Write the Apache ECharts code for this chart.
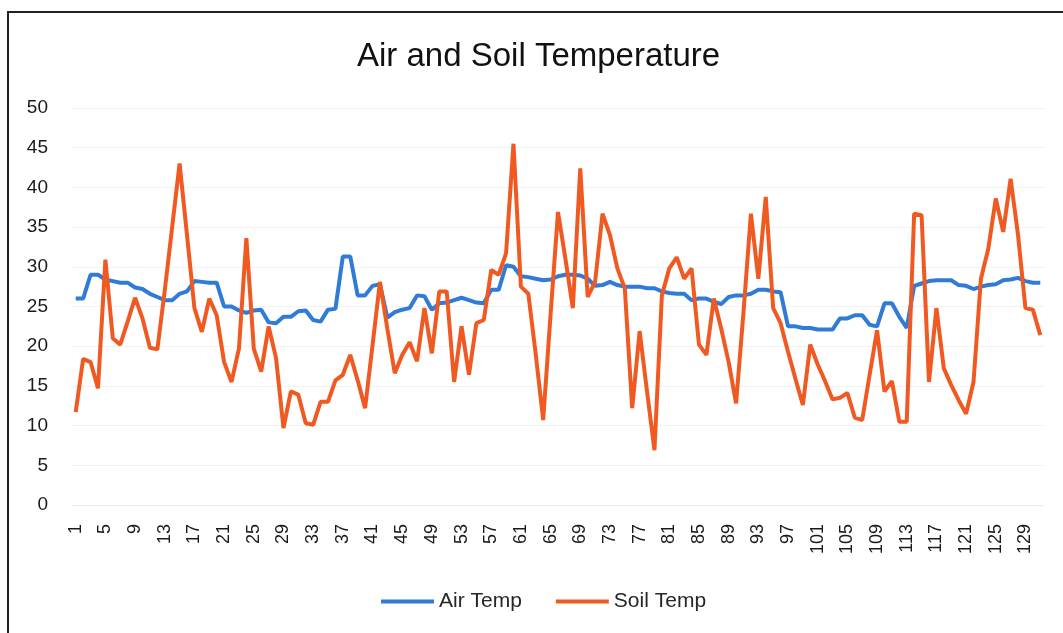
<!DOCTYPE html>
<html>
<head>
<meta charset="utf-8">
<script src="https://cdn.jsdelivr.net/npm/echarts@6/dist/echarts.min.js"></script>
<style>
  html, body { margin: 0; padding: 0; background: #ffffff; }
  #chart { width: 1063px; height: 633px; }
</style>
</head>
<body>
<div id="chart"></div>
<script>
const categories = Array.from({ length: 131 }, (_, i) => String(i + 1));

const airTemp = [
  26.0, 26.0, 29.0, 29.0, 28.4, 28.2, 28.0, 28.0, 27.4, 27.2,
  26.6, 26.2, 25.8, 25.8, 26.6, 26.9, 28.2, 28.1, 28.0, 28.0,
  25.0, 25.0, 24.5, 24.2, 24.5, 24.6, 23.0, 22.9, 23.7, 23.7,
  24.4, 24.5, 23.3, 23.1, 24.6, 24.7, 31.3, 31.3, 26.4, 26.4,
  27.6, 27.8, 23.6, 24.3, 24.6, 24.8, 26.4, 26.3, 24.6, 25.4,
  25.5, 25.8, 26.1, 25.8, 25.5, 25.4, 27.1, 27.1, 30.2, 30.0,
  28.8, 28.7, 28.5, 28.3, 28.4, 28.8, 29.0, 29.0, 28.9, 28.5,
  27.6, 27.7, 28.1, 27.7, 27.5, 27.5, 27.5, 27.3, 27.3, 26.9,
  26.7, 26.6, 26.6, 25.8, 26.0, 26.0, 25.6, 25.3, 26.2, 26.4,
  26.4, 26.6, 27.1, 27.1, 26.9, 26.8, 22.5, 22.5, 22.3, 22.3,
  22.1, 22.1, 22.1, 23.5, 23.5, 23.9, 23.9, 22.7, 22.5, 25.4,
  25.4, 23.7, 22.3, 27.6, 27.9, 28.2, 28.3, 28.3, 28.3, 27.7,
  27.6, 27.2, 27.5, 27.7, 27.8, 28.3, 28.4, 28.6, 28.2, 28.0,
  28.0
];

const soilTemp = [
  11.7, 18.4, 18.0, 14.7, 30.9, 21.0, 20.2, 23.1, 26.1, 23.5,
  19.8, 19.6, 27.0, 35.0, 43.0, 34.0, 24.8, 21.8, 26.0, 23.9,
  18.0, 15.5, 19.7, 33.6, 19.7, 16.8, 22.5, 18.5, 9.7, 14.3,
  13.9, 10.3, 10.1, 13.0, 13.0, 15.7, 16.4, 18.9, 15.7, 12.2,
  20.1, 28.1, 22.2, 16.6, 18.9, 20.5, 18.1, 24.8, 19.1, 26.9,
  26.9, 15.5, 22.5, 16.4, 22.9, 23.3, 29.6, 29.0, 31.7, 45.5,
  27.5, 26.6, 19.0, 10.7, 24.0, 36.9, 31.0, 24.8, 42.4, 26.2,
  28.1, 36.7, 34.0, 29.8, 27.3, 12.2, 21.9, 14.3, 6.9, 26.4,
  29.8, 31.2, 28.5, 29.8, 20.2, 18.9, 26.0, 22.2, 18.0, 12.8,
  24.3, 36.7, 28.5, 38.8, 24.8, 22.9, 19.3, 15.9, 12.6, 20.2,
  17.7, 15.6, 13.3, 13.5, 14.1, 11.0, 10.7, 16.4, 22.0, 14.3,
  15.6, 10.5, 10.5, 36.7, 36.5, 15.5, 24.8, 17.2, 15.1, 13.2,
  11.5, 15.5, 28.5, 32.3, 38.6, 34.4, 41.1, 34.0, 24.8, 24.6,
  21.4
];

const seriesNames = ['Air Temp', 'Soil Temp'];
const titleText = 'Air and Soil Temperature';
const FONT = 'Liberation Sans, Arial, sans-serif';

const chart = echarts.init(document.getElementById('chart'), null, { renderer: 'canvas' });
chart.setOption({
  backgroundColor: '#ffffff',
  animation: false,
  title: {
    text: titleText,
    left: 352,
    top: 35,
    textStyle: { fontFamily: FONT, fontSize: 33, fontWeight: 'normal', color: '#111111' }
  },
  graphic: [{
    type: 'rect',
    shape: { x: 8, y: 12, width: 1070, height: 640 },
    style: { fill: 'none', stroke: '#222222', lineWidth: 2 }
  }],
  legend: {
    top: 586,
    left: 376,
    icon: 'rect',
    itemWidth: 53,
    itemHeight: 4,
    itemGap: 34,
    textStyle: { fontFamily: FONT, fontSize: 21, color: '#262626' },
    data: seriesNames
  },
  grid: { left: 72, right: 19, top: 108, bottom: 128, containLabel: false },
  xAxis: {
    type: 'category',
    data: categories,
    boundaryGap: true,
    axisLine: { show: true, lineStyle: { color: '#ececec' } },
    axisTick: { show: false },
    axisLabel: {
      interval: 3,
      rotate: 90,
      margin: 19,
      fontFamily: FONT,
      fontSize: 18,
      color: '#1a1a1a'
    },
    splitLine: { show: false }
  },
  yAxis: {
    type: 'value',
    min: 0,
    max: 50,
    interval: 5,
    axisLine: { show: false },
    axisTick: { show: false },
    axisLabel: {
      margin: 24,
      fontFamily: FONT,
      fontSize: 19,
      color: '#1a1a1a'
    },
    splitLine: { show: true, lineStyle: { color: '#f2f2f2', width: 1 } }
  },
  series: [
    {
      name: seriesNames[0],
      type: 'line',
      data: airTemp,
      showSymbol: false,
      symbol: 'none',
      lineStyle: { color: '#2f7bd6', width: 4 },
      itemStyle: { color: '#2f7bd6' },
      z: 2
    },
    {
      name: seriesNames[1],
      type: 'line',
      data: soilTemp,
      showSymbol: false,
      symbol: 'none',
      lineStyle: { color: '#f05a22', width: 4 },
      itemStyle: { color: '#f05a22' },
      z: 3
    }
  ]
});
</script>
</body>
</html>
